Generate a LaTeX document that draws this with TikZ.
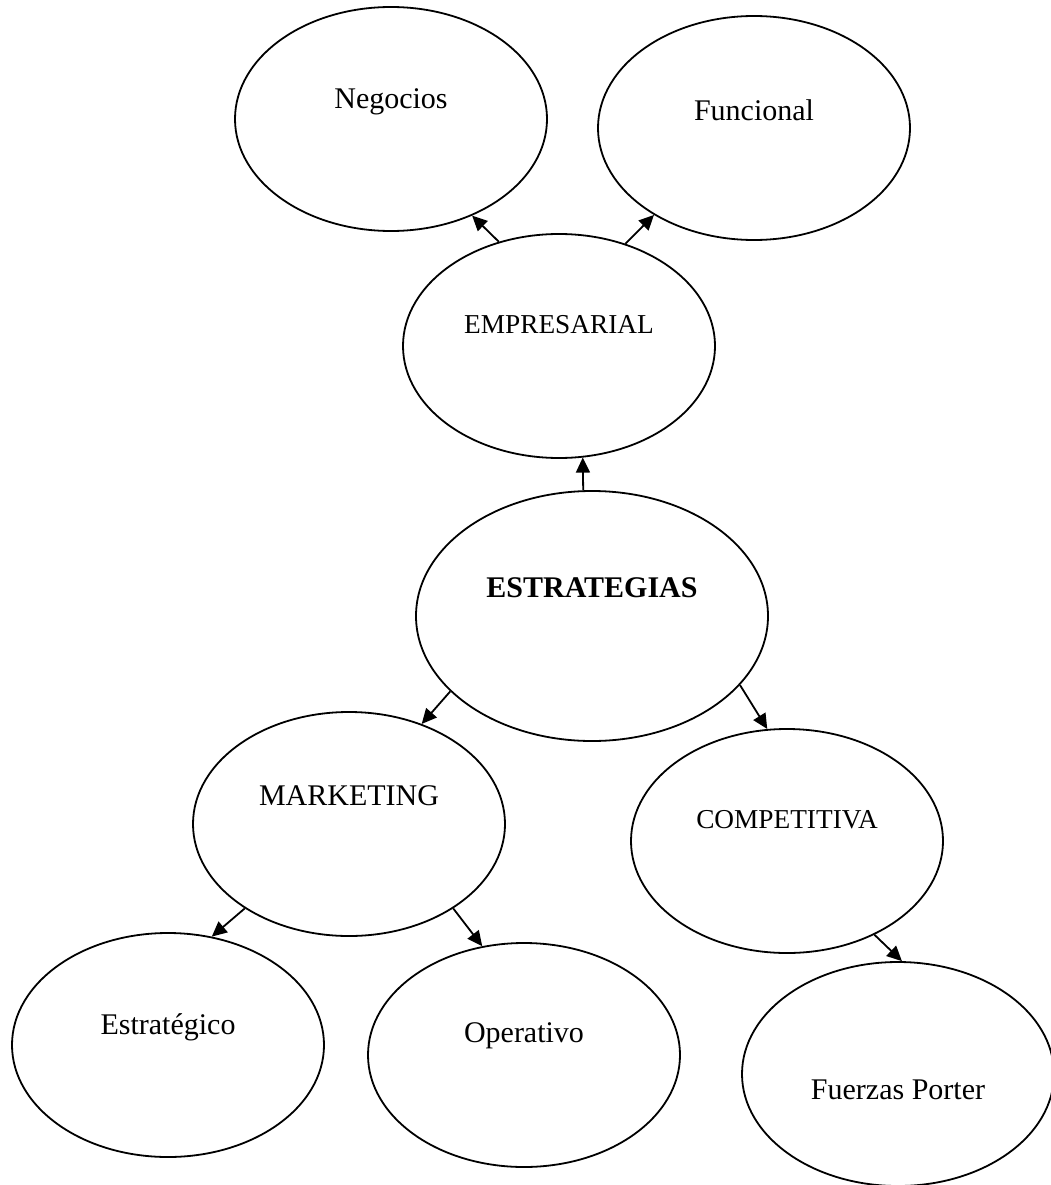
\documentclass[tikz,border=0pt]{standalone}
\usepackage{fontspec}
\setmainfont{Liberation Serif}
\usetikzlibrary{shapes.geometric,arrows.meta}

\tikzset{
  bubble/.style={ellipse, draw=black, line width=1.8pt, fill=white,
    minimum width=312pt, minimum height=224pt, inner sep=0pt},
  bigbubble/.style={bubble, minimum width=352pt, minimum height=250pt},
  lab/.style={font=\fontsize{30}{36}\selectfont, inner sep=0pt},
  smalllab/.style={font=\fontsize{27.3}{33}\selectfont, inner sep=0pt},
  boldlab/.style={font=\fontsize{30}{36}\selectfont\bfseries, inner sep=0pt},
  arr/.style={line width=1.8pt, -{Triangle[length=15pt,width=14pt]}}
}

\begin{document}
\begin{tikzpicture}[x=1pt,y=-1pt]
\useasboundingbox (0,0) rectangle (1050,1185);

% top level
\node[bubble, label={[lab, yshift=17pt]center:Negocios}] (neg) at (391,119) {};
\node[bubble, label={[lab, yshift=18pt]center:Funcional}] (fun) at (754,128) {};
\node[bubble, label={[smalllab, yshift=21pt]center:EMPRESARIAL}] (emp) at (559,346) {};

% centre
\node[bigbubble, label={[boldlab, yshift=28pt]center:ESTRATEGIAS}] (est) at (592,616) {};

% lower levels
\node[bubble, label={[lab, yshift=28pt]center:MARKETING}] (mkt) at (349,824) {};
\node[bubble, label={[smalllab, yshift=21pt]center:COMPETITIVA}] (com) at (787,841) {};
\node[bubble, label={[lab, yshift=18pt]center:Estratégico}] (etg) at (168,1045) {};
\node[bubble, label={[lab, yshift=19pt]center:Operativo}] (ope) at (524,1055) {};
\node[bubble, label={[lab, yshift=-16pt]center:Fuerzas Porter}] (fue) at (898,1074) {};

% connectors
\draw[arr] (emp.120)   -- (neg.-50.5);
\draw[arr] (emp.57.7)  -- (fun.221.6);
\draw[arr] (est.94.5)  -- (emp.-78.4);
\draw[arr] (est.208.2) -- (mkt.54.1);
\draw[arr] (est.-25)   -- (com.100);
\draw[arr] (mkt.219.1) -- (etg.68.2);
\draw[arr] (mkt.-39.2) -- (ope.111.4);
\draw[arr] (com.-47.5) -- (fue.88);
\end{tikzpicture}
\end{document}
